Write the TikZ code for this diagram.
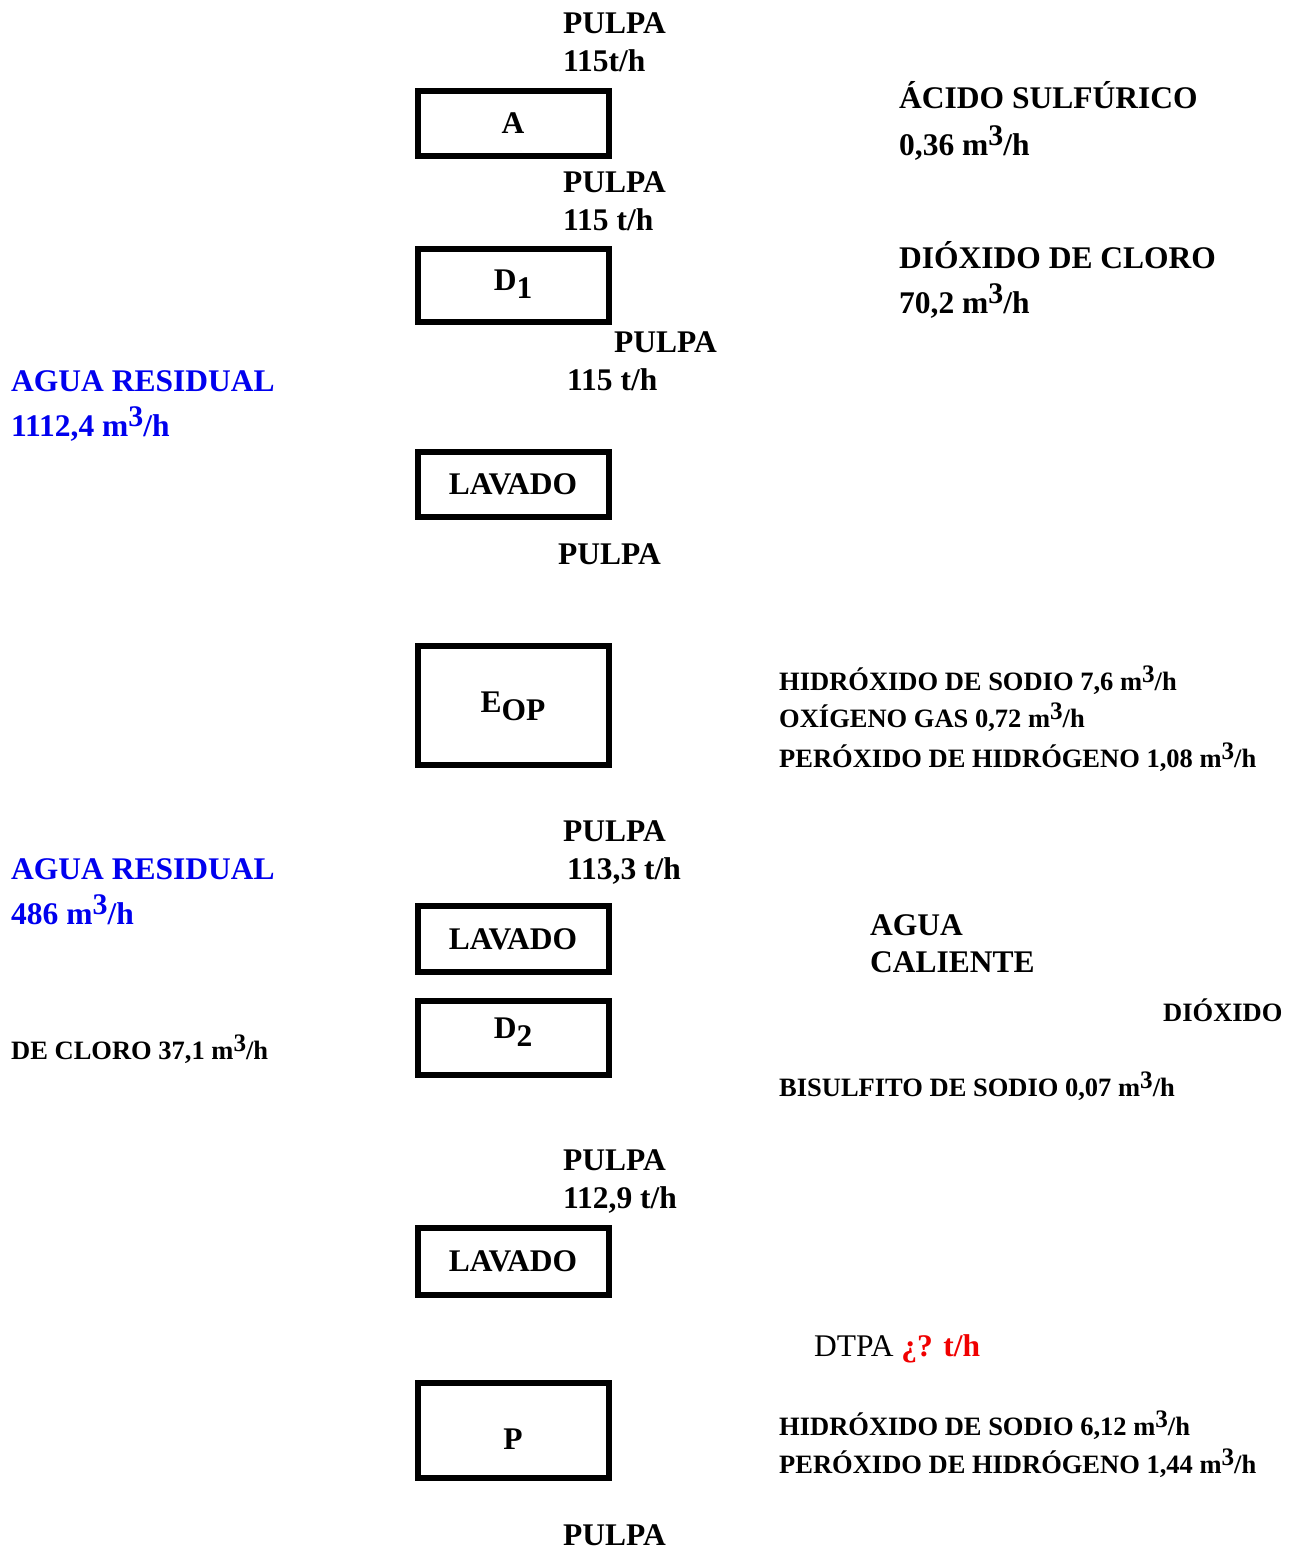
\documentclass[tikz,border=0pt]{standalone}
\usepackage{fontspec}
\usepackage{graphicx}
\setmainfont{Liberation Serif}
\definecolor{aguablue}{RGB}{0,0,238}
\definecolor{dtpared}{RGB}{240,0,0}
\newcommand{\cubo}{\raisebox{0.3em}{\scalebox{0.95}{3}}}
\newcommand{\sbx}[1]{\raisebox{-0.28em}{#1}}
\begin{document}
\begin{tikzpicture}[x=1pt,y=-1pt,
  stage/.style={draw,line width=6pt},
  big/.style={anchor=base west,inner sep=0pt,font=\fontsize{31.5}{36}\selectfont\bfseries},
  small/.style={anchor=base west,inner sep=0pt,font=\fontsize{26.5}{31}\selectfont\bfseries},
  boxlabel/.style={anchor=base,inner sep=0pt,font=\fontsize{31.5}{36}\selectfont\bfseries}]
\useasboundingbox (0,0) rectangle (1298,1551);

% process stages
\draw[stage] (418,91) rectangle (609,156);
\draw[stage] (418,249) rectangle (609,322);
\draw[stage] (418,452) rectangle (609,517);
\draw[stage] (418,646) rectangle (609,765);
\draw[stage] (418,906) rectangle (609,972);
\draw[stage] (418,1001) rectangle (609,1075);
\draw[stage] (418,1228) rectangle (609,1295);
\draw[stage] (418,1383) rectangle (609,1478);

\node[boxlabel] (lA) at (513,133) {A};
\node[boxlabel] (lD1) at (513,290) {D\sbx{1}};
\node[boxlabel] (lL1) at (513,494) {LAVADO};
\node[boxlabel] (lE) at (513,712) {E\sbx{OP}};
\node[boxlabel] (lL2) at (513,949) {LAVADO};
\node[boxlabel] (lD2) at (513,1038) {D\sbx{2}};
\node[boxlabel] (lL3) at (513,1271) {LAVADO};
\node[boxlabel] (lP) at (513,1449) {P};

% pulp stream labels
\node[big] (p1) at (563,33) {PULPA};
\node[big] (p1r) at (563,71) {115t/h};
\node[big] (p2) at (563,192) {PULPA};
\node[big] (p2r) at (563,230) {115 t/h};
\node[big] (p3) at (614,352) {PULPA};
\node[big] (p3r) at (567,390) {115 t/h};
\node[big] (p4) at (558,564) {PULPA};
\node[big] (p5) at (563,841) {PULPA};
\node[big] (p5r) at (567,879) {113,3 t/h};
\node[big] (p6) at (563,1170) {PULPA};
\node[big] (p6r) at (563,1208) {112,9 t/h};
\node[big] (p7) at (563,1545) {PULPA};

% chemical feeds
\node[big] (acid) at (899,108) {ÁCIDO SULFÚRICO};
\node[big] (acidr) at (899,155) {0,36 m\cubo/h};
\node[big] (clo) at (899,268) {DIÓXIDO DE CLORO};
\node[big] (clor) at (899,313) {70,2 m\cubo/h};

\node[small] (e1) at (779,690) {HIDRÓXIDO DE SODIO 7,6 m\cubo/h};
\node[small] (e2) at (779,727) {OXÍGENO GAS 0,72 m\cubo/h};
\node[small] (e3) at (779,767) {PERÓXIDO DE HIDRÓGENO 1,08 m\cubo/h};

\node[big] (ac1) at (870,935) {AGUA};
\node[big] (ac2) at (870,972) {CALIENTE};
\node[small] (dx) at (1163,1021) {DIÓXIDO};
\node[small] (dcl) at (11,1059) {DE CLORO 37,1 m\cubo/h};
\node[small] (bis) at (779,1096) {BISULFITO DE SODIO 0,07 m\cubo/h};

\node[anchor=base west,inner sep=0pt,font=\fontsize{31.5}{36}\selectfont] (dtpa) at (814,1356)
  {DTPA \textcolor{dtpared}{\bfseries ¿? t/h}};
\node[small] (pp1) at (779,1435) {HIDRÓXIDO DE SODIO 6,12 m\cubo/h};
\node[small] (pp2) at (779,1473) {PERÓXIDO DE HIDRÓGENO 1,44 m\cubo/h};

% waste water
\node[big,text=aguablue] (ar1) at (11,391) {AGUA RESIDUAL};
\node[big,text=aguablue] (ar1r) at (11,436) {1112,4 m\cubo/h};
\node[big,text=aguablue] (ar2) at (11,879) {AGUA RESIDUAL};
\node[big,text=aguablue] (ar2r) at (11,924) {486 m\cubo/h};
\end{tikzpicture}
\end{document}
